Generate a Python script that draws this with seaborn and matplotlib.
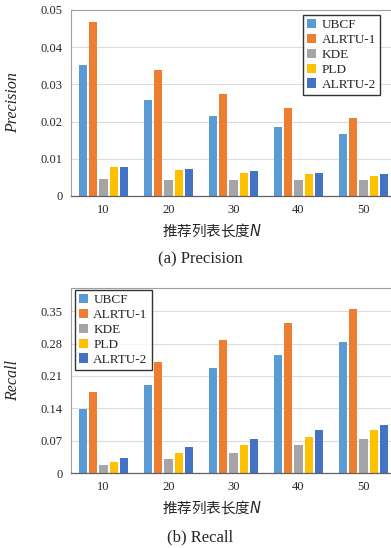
import pandas as pd
import numpy as np

import matplotlib.pyplot as plt
import seaborn as sns

lengths = ["10", "20", "30", "40", "50"]
methods = ["UBCF", "ALRTU-1", "KDE", "PLD", "ALRTU-2"]

precision_ubcf = [0.0352, 0.0258, 0.0214, 0.0186, 0.0167]
precision_alrtu1 = [0.0469, 0.0338, 0.0274, 0.0236, 0.0209]
precision_kde = [0.0046, 0.0044, 0.0043, 0.0043, 0.0042]
precision_pld = [0.0077, 0.0071, 0.0063, 0.0059, 0.0055]
precision_alrtu2 = [0.0079, 0.0072, 0.0066, 0.0063, 0.0059]

recall_ubcf = [0.138, 0.191, 0.227, 0.256, 0.284]
recall_alrtu1 = [0.176, 0.241, 0.288, 0.325, 0.355]
recall_kde = [0.017, 0.030, 0.043, 0.060, 0.073]
recall_pld = [0.024, 0.044, 0.061, 0.077, 0.092]
recall_alrtu2 = [0.032, 0.056, 0.073, 0.092, 0.104]

colors = ["#5B9BD5", "#ED7D31", "#A5A5A5", "#FFC000", "#4472C4"]


def long_table(series):
    rows = []
    for m, vals in zip(methods, series):
        for n, v in zip(lengths, vals):
            rows.append({"N": n, "method": m, "value": v})
    return pd.DataFrame(rows)


prec_df = long_table([precision_ubcf, precision_alrtu1, precision_kde,
                      precision_pld, precision_alrtu2])
rec_df = long_table([recall_ubcf, recall_alrtu1, recall_kde,
                     recall_pld, recall_alrtu2])

sns.set_theme(style="white")
plt.rcParams["font.family"] = ["Liberation Serif", "Noto Sans CJK SC"]

fig = plt.figure(figsize=(3.91, 5.48), dpi=100)
W, H = 391, 548
ax1 = fig.add_axes([71 / W, 1 - 196 / H, 325 / W, 186 / H])
ax2 = fig.add_axes([71 / W, 1 - 473 / H, 325 / W, 185 / H])


def draw(ax, df, ylabel, yticks, ylim, legend_loc, legend_anchor, tick_labels):
    sns.barplot(data=df, x="N", y="value", hue="method", hue_order=methods,
                palette=colors, width=0.77, gap=0.2, ax=ax,
                edgecolor="none", saturation=1)
    ax.set_ylim(*ylim)
    ax.set_xlim(-0.5, 4.5)
    ax.set_yticks(yticks)
    ax.set_yticklabels(tick_labels)
    ax.yaxis.grid(True, color="#DCDCDC", lw=0.8)
    ax.set_axisbelow(True)
    ax.tick_params(axis="both", labelsize=9, length=0, pad=6)
    for s in ["left", "top", "right"]:
        ax.spines[s].set_color("#A0A0A0")
        ax.spines[s].set_linewidth(0.8)
    ax.spines["bottom"].set_color("#606060")
    ax.spines["bottom"].set_linewidth(0.9)
    ax.set_xlabel("推荐列表长度$\\mathit{N}$", fontsize=10.5,
                  family=["Noto Sans CJK SC", "Liberation Serif"])
    ax.xaxis.set_label_coords(0.434, -0.14)
    ax.set_ylabel(ylabel, fontsize=11.5, style="italic")
    ax.yaxis.set_label_coords(-0.155, 0.5)
    leg = ax.legend(loc=legend_loc, bbox_to_anchor=legend_anchor, fontsize=9.5,
                    frameon=True, fancybox=False, edgecolor="black",
                    handlelength=0.7, handleheight=0.7, handletextpad=0.4,
                    labelspacing=0.2, borderpad=0.3, borderaxespad=0)
    leg.get_frame().set_linewidth(1.0)


draw(ax1, prec_df, "Precision", [0, 0.01, 0.02, 0.03, 0.04, 0.05], (0, 0.05),
     "upper right", (0.951, 0.973),
     ["0", "0.01", "0.02", "0.03", "0.04", "0.05"])
draw(ax2, rec_df, "Recall", [0, 0.07, 0.14, 0.21, 0.28, 0.35], (0, 0.40),
     "upper left", (0.012, 0.989),
     ["0", "0.07", "0.14", "0.21", "0.28", "0.35"])

fig.text(200 / W, 1 - 259 / H, "(a) Precision", ha="center", va="center",
         fontsize=12)
fig.text(200 / W, 1 - 537 / H, "(b) Recall", ha="center", va="center",
         fontsize=12)

fig.savefig("out.png", dpi=100)
